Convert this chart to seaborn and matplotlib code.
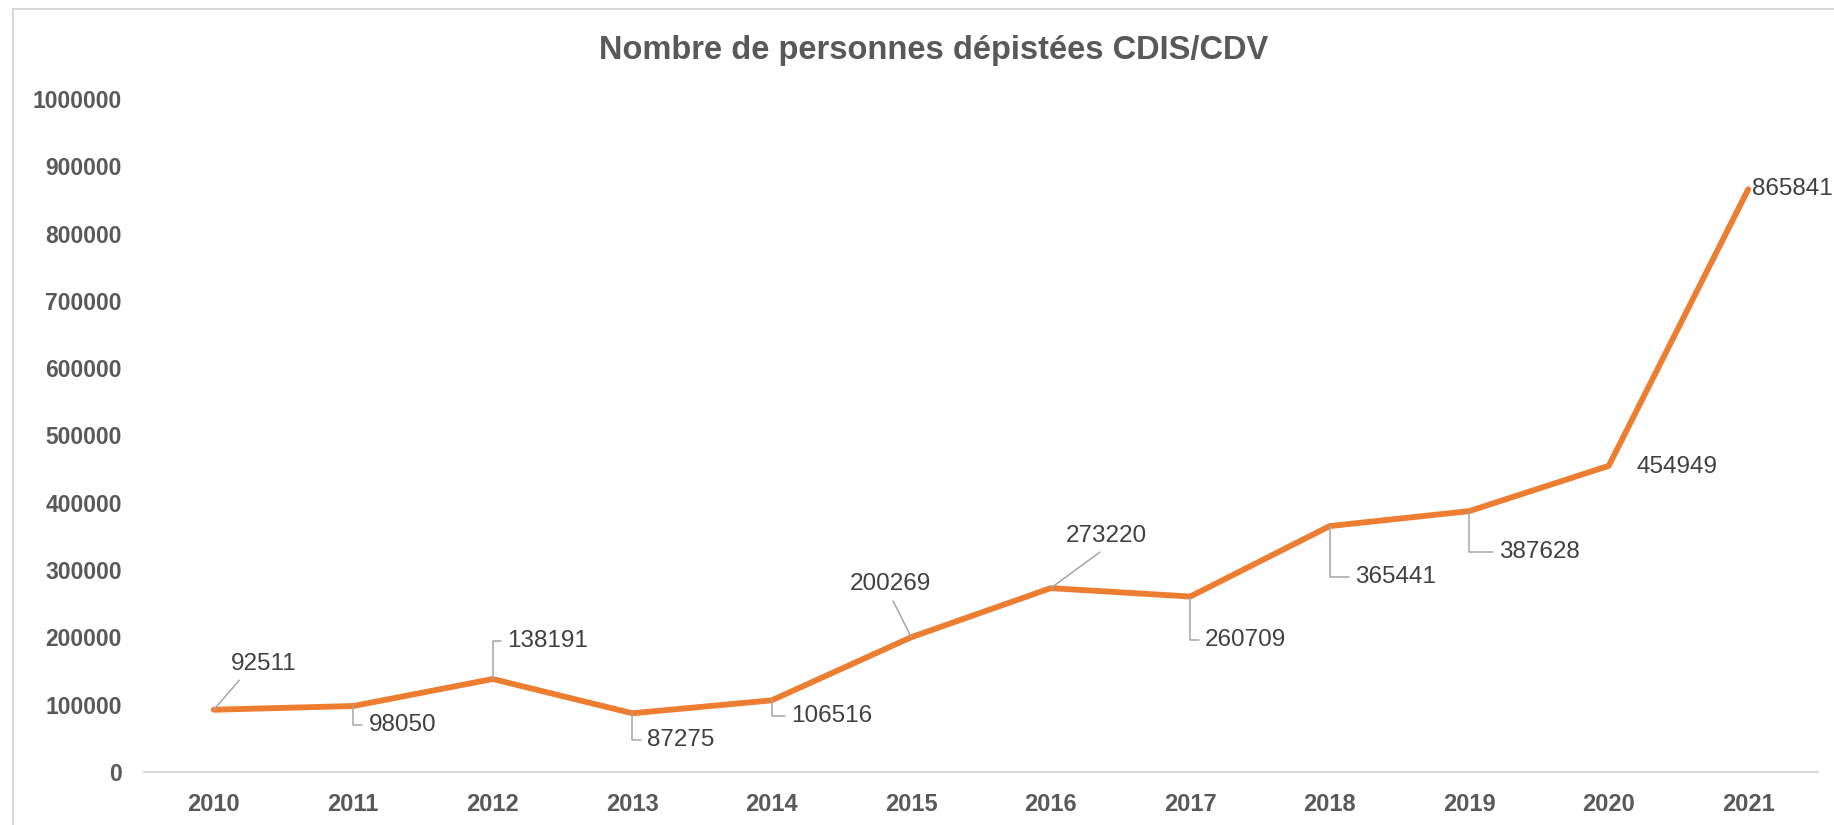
import numpy as np
import pandas as pd
import matplotlib
matplotlib.use("Agg")
import matplotlib.pyplot as plt
import seaborn as sns
from matplotlib.patches import Rectangle

# data
years = [2010, 2011, 2012, 2013, 2014, 2015, 2016, 2017, 2018, 2019, 2020, 2021]
values = [92511, 98050, 138191, 87275, 106516, 200269, 273220, 260709,
          365441, 387628, 454949, 865841]
y_ticks = list(range(0, 1000001, 100000))
title = "Nombre de personnes dépistées CDIS/CDV"

# label placement (pixel offsets from the point) and leader type
label_offsets = [(50, 46), (49, -19), (55, 38), (48, -27), (60, -16), (-21, 53),
                 (56, 52), (55, -43), (66, -51), (70, -41), (68, -1), (4, 0)]
leader_kind = ['diag', 'elbow', 'elbow', 'elbow', 'elbow', 'diag',
               'diag', 'elbow', 'elbow', 'elbow', None, None]
diag_relpos = {2010: (0.2, 0), 2015: (0.5, 0), 2016: (0.5, 0)}

sns.set_theme(style="white")
plt.rcParams['font.family'] = ['Liberation Sans', 'DejaVu Sans']

df = pd.DataFrame({"annee": years, "depistes": values})

W, H = 1834, 825
fig = plt.figure(figsize=(W / 100, H / 100), dpi=100)
ax = fig.add_axes([144 / W, 53 / H, (1818 - 144) / W, (772 - 99) / H])

sns.lineplot(data=df, x="annee", y="depistes", ax=ax, color="#ED7D31",
             linewidth=4.2, solid_capstyle="round", solid_joinstyle="round")

ax.set_xlim(2009.5, 2021.5)
ax.set_ylim(0, 1000000)
ax.set_xticks(years)
ax.set_xticklabels([str(y) for y in years])
ax.set_yticks(y_ticks)
ax.set_yticklabels([str(t) for t in y_ticks])
ax.set_xlabel("")
ax.set_ylabel("")
for s in ["left", "right", "top"]:
    ax.spines[s].set_visible(False)
ax.spines["bottom"].set_color("#d9d9d9")
ax.spines["bottom"].set_linewidth(1.5)
ax.tick_params(axis="both", length=0, labelsize=16.5, labelcolor="#595959")
ax.tick_params(axis="x", labelsize=17, pad=15)
ax.tick_params(axis="y", pad=16)
for lab in ax.get_xticklabels() + ax.get_yticklabels():
    lab.set_fontweight("bold")
ax.grid(False)

# data labels
for yr, val, (dx, dy), kind in zip(years, values, label_offsets, leader_kind):
    props = None
    ha = "center"
    if kind == "elbow":
        props = dict(arrowstyle="-", color="#a6a6a6", lw=1.1, relpos=(0, 0.5),
                     connectionstyle="angle,angleA=0,angleB=90,rad=0",
                     shrinkA=2, shrinkB=0)
    elif kind == "diag":
        props = dict(arrowstyle="-", color="#a6a6a6", lw=1.1,
                     relpos=diag_relpos[yr], shrinkA=2, shrinkB=0)
    if yr == 2021:
        ha = "left"
    ax.annotate(f"{val}", xy=(yr, val), xytext=(dx, dy), textcoords="offset pixels",
                ha=ha, va="center", fontsize=17.5, color="#404040",
                arrowprops=props, annotation_clip=False)

fig.text(934 / W, 1 - 50 / H, title, ha="center", va="center",
         fontsize=23.5, fontweight="bold", color="#595959")

# chart frame
fig.add_artist(Rectangle((13 / W, -0.05), 1.0, 1 - 9 / H + 0.05,
                         transform=fig.transFigure, fill=False,
                         edgecolor="#d9d9d9", lw=1.5))

fig.savefig("out.png", dpi=100)
